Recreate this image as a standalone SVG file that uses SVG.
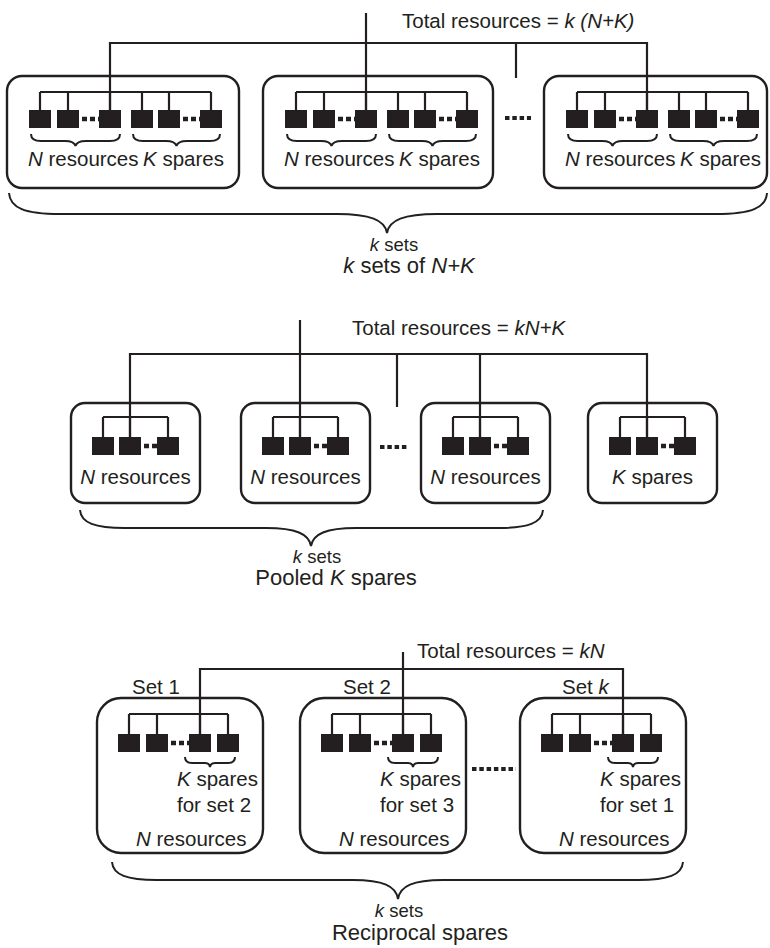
<svg xmlns="http://www.w3.org/2000/svg" width="770" height="948" viewBox="0 0 770 948">
<style>
  .bg { fill: #ffffff; }
  .box { fill: none; stroke: #231f20; stroke-width: 2.4; }
  .ln { fill: none; stroke: #231f20; stroke-width: 2.2; }
  .br { fill: none; stroke: #231f20; stroke-width: 2; }
  .sq { fill: #231f20; }
  .dots { fill: none; stroke: #231f20; stroke-width: 4.5; stroke-dasharray: 5 3; }
  .gap { fill: none; stroke: #231f20; stroke-width: 4; stroke-dasharray: 4.5 2.8; }
  text { font-family: "Liberation Sans", Arial, sans-serif; fill: #231f20; }
  .lbl { font-size: 20.5px; }
  .ks { font-size: 18.5px; }
  .ttl { font-size: 22px; }
  .it { font-style: italic; }
  .mid { text-anchor: middle; }
</style>
<rect class="bg" x="0" y="0" width="770" height="948"/>

<!-- ===== Section 1: k sets of N+K ===== -->
<g id="connectors-1">
  <path class="ln" d="M366,13 V110"/>
  <path class="ln" d="M110,110 V43 H647 V110"/>
  <path class="ln" d="M516,43 V78"/>
  <path class="gap" d="M505,118 H531"/>
</g>
<g id="top-box-1" transform="translate(7,0)">
  <rect class="box" x="0" y="76" width="232" height="112" rx="15"/>
  <path class="ln" d="M33,92 H204 M33,92 V110 M61,92 V110 M103,92 V110 M135,92 V110 M162,92 V110 M204,92 V110"/>
  <rect class="sq" x="22" y="110" width="22" height="18"/>
  <rect class="sq" x="50" y="110" width="22" height="18"/>
  <rect class="sq" x="92" y="110" width="22" height="18"/>
  <rect class="sq" x="124" y="110" width="22" height="18"/>
  <rect class="sq" x="151" y="110" width="22" height="18"/>
  <rect class="sq" x="193" y="110" width="22" height="18"/>
  <path class="dots" d="M75,119 H92 M176,119 H193"/>
  <path class="br" d="M24,134 C24,139 27,141 34,141 L58,141 C64,141 67.5,142 68.5,146 C69.5,142 73,141 79,141 L103,141 C110,141 113,139 113,134"/>
  <path class="br" d="M126,134 C126,139 129,141 136,141 L159,141 C165,141 168.5,142 169.5,146 C170.5,142 174,141 180,141 L203,141 C210,141 213,139 213,134"/>
  <text class="lbl" x="21" y="166"><tspan class="it">N</tspan> resources</text>
  <text class="lbl" x="136" y="166"><tspan class="it">K</tspan> spares</text>
</g>
<g id="top-box-2" transform="translate(263,0)">
  <rect class="box" x="0" y="76" width="230" height="112" rx="15"/>
  <path class="ln" d="M33,92 H204 M33,92 V110 M61,92 V110 M103,92 V110 M135,92 V110 M162,92 V110 M204,92 V110"/>
  <rect class="sq" x="22" y="110" width="22" height="18"/>
  <rect class="sq" x="50" y="110" width="22" height="18"/>
  <rect class="sq" x="92" y="110" width="22" height="18"/>
  <rect class="sq" x="124" y="110" width="22" height="18"/>
  <rect class="sq" x="151" y="110" width="22" height="18"/>
  <rect class="sq" x="193" y="110" width="22" height="18"/>
  <path class="dots" d="M75,119 H92 M176,119 H193"/>
  <path class="br" d="M24,134 C24,139 27,141 34,141 L58,141 C64,141 67.5,142 68.5,146 C69.5,142 73,141 79,141 L103,141 C110,141 113,139 113,134"/>
  <path class="br" d="M126,134 C126,139 129,141 136,141 L159,141 C165,141 168.5,142 169.5,146 C170.5,142 174,141 180,141 L203,141 C210,141 213,139 213,134"/>
  <text class="lbl" x="21" y="166"><tspan class="it">N</tspan> resources</text>
  <text class="lbl" x="136" y="166"><tspan class="it">K</tspan> spares</text>
</g>
<g id="top-box-3" transform="translate(544,0)">
  <rect class="box" x="0" y="76" width="223" height="112" rx="15"/>
  <path class="ln" d="M33,92 H204 M33,92 V110 M61,92 V110 M103,92 V110 M135,92 V110 M162,92 V110 M204,92 V110"/>
  <rect class="sq" x="22" y="110" width="22" height="18"/>
  <rect class="sq" x="50" y="110" width="22" height="18"/>
  <rect class="sq" x="92" y="110" width="22" height="18"/>
  <rect class="sq" x="124" y="110" width="22" height="18"/>
  <rect class="sq" x="151" y="110" width="22" height="18"/>
  <rect class="sq" x="193" y="110" width="22" height="18"/>
  <path class="dots" d="M75,119 H92 M176,119 H193"/>
  <path class="br" d="M24,134 C24,139 27,141 34,141 L58,141 C64,141 67.5,142 68.5,146 C69.5,142 73,141 79,141 L103,141 C110,141 113,139 113,134"/>
  <path class="br" d="M126,134 C126,139 129,141 136,141 L159,141 C165,141 168.5,142 169.5,146 C170.5,142 174,141 180,141 L203,141 C210,141 213,139 213,134"/>
  <text class="lbl" x="21" y="166"><tspan class="it">N</tspan> resources</text>
  <text class="lbl" x="136" y="166"><tspan class="it">K</tspan> spares</text>
</g>
<g id="labels-1">
  <text class="lbl" x="402" y="28">Total resources = <tspan class="it">k (N+K)</tspan></text>
  <path class="br" d="M9,193 C10,208 25,214 60,214 L337,214 C370,214 385,220 387,233 C389,220 404,214 437,214 L716,214 C751,214 766,208 767,193"/>
  <text class="ks mid" x="394" y="251"><tspan class="it">k</tspan> sets</text>
  <text class="ttl mid" x="409" y="273"><tspan class="it">k</tspan> sets of <tspan class="it">N+K</tspan></text>
</g>

<!-- ===== Section 2: Pooled K spares ===== -->
<g id="connectors-2">
  <path class="ln" d="M300,320 V437"/>
  <path class="ln" d="M130,437 V354 H647 V437"/>
  <path class="ln" d="M480,354 V437"/>
  <path class="ln" d="M397,354 V407"/>
  <path class="gap" d="M380,447 H409"/>
</g>
<g id="mid-box-1" transform="translate(71,0)">
  <rect class="box" x="0" y="403" width="129" height="100" rx="14"/>
  <path class="ln" d="M32,417 H97 M32,417 V437 M59,417 V437 M97,417 V437"/>
  <rect class="sq" x="21" y="437" width="22" height="18"/>
  <rect class="sq" x="48" y="437" width="22" height="18"/>
  <rect class="sq" x="86" y="437" width="22" height="18"/>
  <path class="dots" d="M73,446 H86"/>
  <text class="lbl mid" x="64.5" y="484"><tspan class="it">N</tspan> resources</text>
</g>
<g id="mid-box-2" transform="translate(241,0)">
  <rect class="box" x="0" y="403" width="129" height="100" rx="14"/>
  <path class="ln" d="M32,417 H97 M32,417 V437 M59,417 V437 M97,417 V437"/>
  <rect class="sq" x="21" y="437" width="22" height="18"/>
  <rect class="sq" x="48" y="437" width="22" height="18"/>
  <rect class="sq" x="86" y="437" width="22" height="18"/>
  <path class="dots" d="M73,446 H86"/>
  <text class="lbl mid" x="64.5" y="484"><tspan class="it">N</tspan> resources</text>
</g>
<g id="mid-box-3" transform="translate(421,0)">
  <rect class="box" x="0" y="403" width="129" height="100" rx="14"/>
  <path class="ln" d="M32,417 H97 M32,417 V437 M59,417 V437 M97,417 V437"/>
  <rect class="sq" x="21" y="437" width="22" height="18"/>
  <rect class="sq" x="48" y="437" width="22" height="18"/>
  <rect class="sq" x="86" y="437" width="22" height="18"/>
  <path class="dots" d="M73,446 H86"/>
  <text class="lbl mid" x="64.5" y="484"><tspan class="it">N</tspan> resources</text>
</g>
<g id="mid-box-4" transform="translate(588,0)">
  <rect class="box" x="0" y="403" width="129" height="100" rx="14"/>
  <path class="ln" d="M32,417 H97 M32,417 V437 M59,417 V437 M97,417 V437"/>
  <rect class="sq" x="21" y="437" width="22" height="18"/>
  <rect class="sq" x="48" y="437" width="22" height="18"/>
  <rect class="sq" x="86" y="437" width="22" height="18"/>
  <path class="dots" d="M73,446 H86"/>
  <text class="lbl mid" x="64.5" y="484"><tspan class="it">K</tspan> spares</text>
</g>
<g id="labels-2">
  <text class="lbl" x="352" y="335">Total resources = <tspan class="it">kN+K</tspan></text>
  <path class="br" d="M80,510 C81,523 95,528 125,528 L266,528 C296,528 309,534 311,546 C313,534 326,528 356,528 L498,528 C528,528 542,523 543,510"/>
  <text class="ks mid" x="317" y="563"><tspan class="it">k</tspan> sets</text>
  <text class="ttl mid" x="336" y="585">Pooled <tspan class="it">K</tspan> spares</text>
</g>

<!-- ===== Section 3: Reciprocal spares ===== -->
<g id="connectors-3">
  <path class="ln" d="M403,652 V734"/>
  <path class="ln" d="M200,734 V669 H623 V734"/>
  <path class="gap" d="M472,769 H516"/>
</g>
<g id="set-1" transform="translate(97,0)">
  <rect class="box" x="0" y="698" width="166" height="155" rx="24"/>
  <path class="ln" d="M32,714 H131 M32,714 V734 M60,714 V734 M103,714 V734 M131,714 V734"/>
  <rect class="sq" x="21" y="734" width="22" height="18"/>
  <rect class="sq" x="49" y="734" width="22" height="18"/>
  <rect class="sq" x="92" y="734" width="22" height="18"/>
  <rect class="sq" x="120" y="734" width="22" height="18"/>
  <path class="dots" d="M74,743 H92"/>
  <path class="br" d="M88,757 C88,761 90,763 95,763 L108,763 C111,763 112.5,764 113,767 C113.5,764 115,763 118,763 L131,763 C136,763 138,761 138,757"/>
  <text class="lbl" x="35" y="694">Set 1</text>
  <text class="lbl" x="80" y="786"><tspan class="it">K</tspan> spares</text>
  <text class="lbl" x="80" y="812">for set 2</text>
  <text class="lbl" x="39" y="846"><tspan class="it">N</tspan> resources</text>
</g>
<g id="set-2" transform="translate(300,0)">
  <rect class="box" x="0" y="698" width="166" height="155" rx="24"/>
  <path class="ln" d="M32,714 H131 M32,714 V734 M60,714 V734 M103,714 V734 M131,714 V734"/>
  <rect class="sq" x="21" y="734" width="22" height="18"/>
  <rect class="sq" x="49" y="734" width="22" height="18"/>
  <rect class="sq" x="92" y="734" width="22" height="18"/>
  <rect class="sq" x="120" y="734" width="22" height="18"/>
  <path class="dots" d="M74,743 H92"/>
  <path class="br" d="M88,757 C88,761 90,763 95,763 L108,763 C111,763 112.5,764 113,767 C113.5,764 115,763 118,763 L131,763 C136,763 138,761 138,757"/>
  <text class="lbl" x="43" y="694">Set 2</text>
  <text class="lbl" x="80" y="786"><tspan class="it">K</tspan> spares</text>
  <text class="lbl" x="80" y="812">for set 3</text>
  <text class="lbl" x="39" y="846"><tspan class="it">N</tspan> resources</text>
</g>
<g id="set-k" transform="translate(520,0)">
  <rect class="box" x="0" y="698" width="166" height="155" rx="24"/>
  <path class="ln" d="M32,714 H131 M32,714 V734 M60,714 V734 M103,714 V734 M131,714 V734"/>
  <rect class="sq" x="21" y="734" width="22" height="18"/>
  <rect class="sq" x="49" y="734" width="22" height="18"/>
  <rect class="sq" x="92" y="734" width="22" height="18"/>
  <rect class="sq" x="120" y="734" width="22" height="18"/>
  <path class="dots" d="M74,743 H92"/>
  <path class="br" d="M88,757 C88,761 90,763 95,763 L108,763 C111,763 112.5,764 113,767 C113.5,764 115,763 118,763 L131,763 C136,763 138,761 138,757"/>
  <text class="lbl" x="42" y="694">Set <tspan class="it">k</tspan></text>
  <text class="lbl" x="80" y="786"><tspan class="it">K</tspan> spares</text>
  <text class="lbl" x="80" y="812">for set 1</text>
  <text class="lbl" x="39" y="846"><tspan class="it">N</tspan> resources</text>
</g>
<g id="labels-3">
  <text class="lbl" x="417" y="658">Total resources = <tspan class="it">kN</tspan></text>
  <path class="br" d="M112,862 C113,875 127,880 157,880 L353,880 C383,880 396,886 398,899 C400,886 413,880 443,880 L638,880 C668,880 682,875 683,862"/>
  <text class="ks mid" x="399" y="917"><tspan class="it">k</tspan> sets</text>
  <text class="ttl mid" x="420" y="940">Reciprocal spares</text>
</g>
</svg>
